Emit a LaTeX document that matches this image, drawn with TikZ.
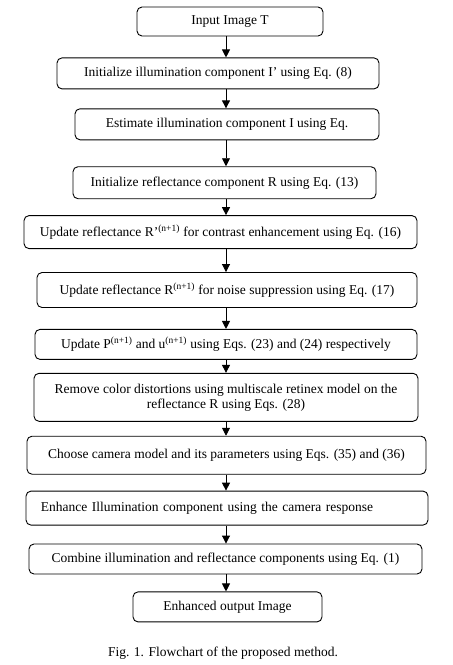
\documentclass[tikz,border=0pt]{standalone}
\usepackage{fontspec}
\setmainfont{Liberation Serif}
\usepackage{tikz}
\usetikzlibrary{arrows.meta, positioning}

\begin{document}
\begin{tikzpicture}[
    x=1pt, y=1pt,
    font=\fontsize{13.5}{15}\selectfont,
    box/.style={rectangle, rounded corners=5pt, draw=black, line width=0.9pt, inner sep=0pt, align=center},
    arrow/.style={-{Triangle[length=8pt, width=8pt]}, line width=0.9pt, black}
]
\useasboundingbox (0,0) rectangle (453,-665);

% Main boxes
\node[box, minimum width=186pt, minimum height=29pt] (input) at (230,-21.5) {Input Image T};
\node[box, minimum width=322pt, minimum height=31pt, below=21pt of input, xshift=-12pt] (initI) {Initialize illumination component I’ using Eq. (8)};
\node[box, minimum width=304pt, minimum height=31pt, below=19pt of initI, xshift=9pt] (estI) {Estimate illumination component I using Eq.};
\node[box, minimum width=303pt, minimum height=32pt, below=26pt of estI, xshift=-2.5pt] (initR) {Initialize reflectance component R using Eq. (13)};
\node[box, minimum width=393pt, minimum height=33pt, below=16pt of initR, xshift=-4pt] (contrast) {Update reflectance R’\textsuperscript{(n+1)} for contrast enhancement using Eq. (16)};
\node[box, minimum width=380pt, minimum height=35pt, below=23pt of contrast, xshift=6.5pt] (noise) {Update reflectance R\textsuperscript{(n+1)} for noise suppression using Eq. (17)};
\node[box, minimum width=382pt, minimum height=30pt, below=21pt of noise, xshift=-1pt] (update) {Update P\textsuperscript{(n+1)} and u\textsuperscript{(n+1)} using Eqs. (23) and (24) respectively};
\node[box, minimum width=384pt, minimum height=48pt, below=13pt of update] (color) {Remove color distortions using multiscale retinex model on the\\reflectance R using Eqs. (28)};
\node[box, minimum width=399pt, minimum height=38pt, below=14pt of color, xshift=0.5pt] (camera) {Choose camera model and its parameters using Eqs. (35) and (36)};
\node[box, text width=372pt, align=left, inner xsep=15pt, minimum height=34pt, below=16pt of camera, xshift=0.5pt] (enhance) {Enhance Illumination component using the camera response};
\node[box, minimum width=393pt, minimum height=30pt, below=18pt of enhance, xshift=-1.5pt] (combine) {Combine illumination and reflectance components using Eq. (1)};
\node[box, minimum width=189pt, minimum height=30pt, below=17pt of combine, xshift=2pt] (output) {Enhanced output Image};

% Caption
\node[below=21pt of output, xshift=-4.5pt] (caption) {Fig. 1. Flowchart of the proposed method.};

% Arrows along one axis
\coordinate (axis) at (226,0);
\foreach \a/\b in {input/initI, initI/estI, estI/initR, initR/contrast, contrast/noise, noise/update, update/color, color/camera, camera/enhance, enhance/combine, combine/output}
    \draw[arrow] (\a.south -| axis) -- (\b.north -| axis);

\end{tikzpicture}
\end{document}
